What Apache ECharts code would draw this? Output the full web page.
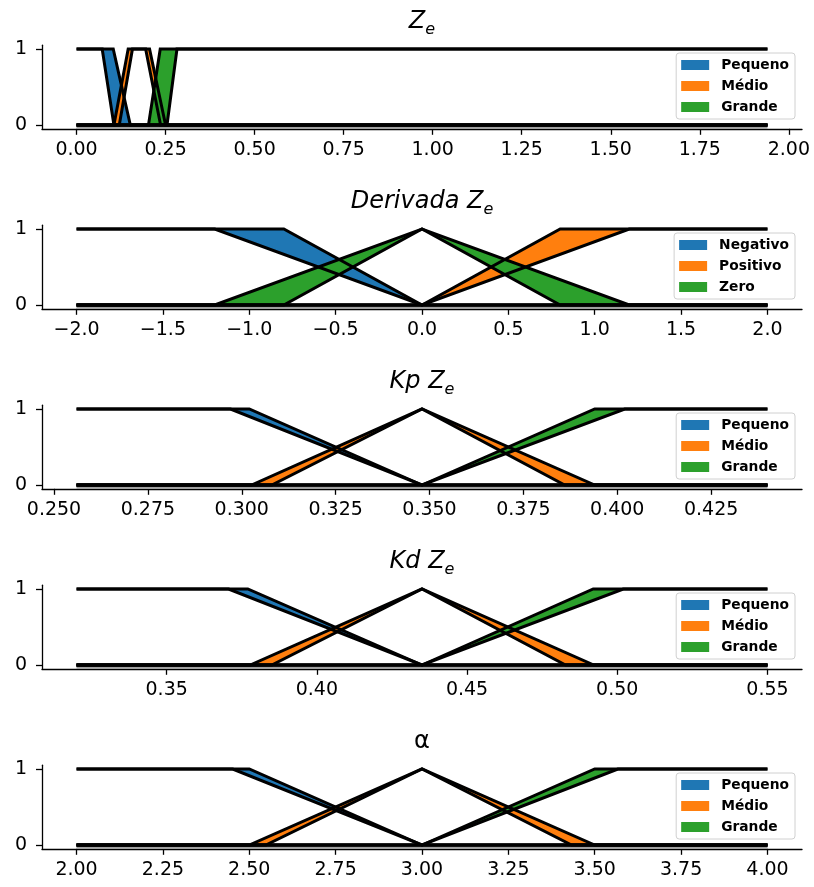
<!DOCTYPE html>
<html>
<head>
<meta charset="utf-8">
<script src="https://cdn.jsdelivr.net/npm/echarts@6/dist/echarts.min.js"></script>
<style>
  html, body { margin: 0; padding: 0; background: #fff; }
  #chart { width: 814px; height: 887px; }
</style>
</head>
<body>
<div id="chart"></div>
<script>
// ---------------- DATA ----------------
// Panel 1: Z_e
const zeDomain = [0, 1.94];
const zeTicks = [0, 0.25, 0.5, 0.75, 1.0, 1.25, 1.5, 1.75, 2.0];
const zePequenoUpper = [[0, 1], [0.103, 1], [0.151, 0], [1.94, 0]];
const zePequenoLower = [[0, 1], [0.072, 1], [0.105, 0], [1.94, 0]];
const zeMedioUpper = [[0, 0], [0.105, 0], [0.145, 1], [0.205, 1], [0.25, 0], [1.94, 0]];
const zeMedioLower = [[0, 0], [0.12, 0], [0.157, 1], [0.194, 1], [0.236, 0], [1.94, 0]];
const zeGrandeUpper = [[0, 0], [0.202, 0], [0.235, 1], [1.94, 1]];
const zeGrandeLower = [[0, 0], [0.254, 0], [0.282, 1], [1.94, 1]];

// Panel 2: Derivada Z_e
const dzDomain = [-2, 2];
const dzTicks = [-2, -1.5, -1, -0.5, 0, 0.5, 1, 1.5, 2];
const dzNegativoUpper = [[-2, 1], [-0.8, 1], [0, 0], [2, 0]];
const dzNegativoLower = [[-2, 1], [-1.2, 1], [0, 0], [2, 0]];
const dzPositivoUpper = [[-2, 0], [0, 0], [0.8, 1], [2, 1]];
const dzPositivoLower = [[-2, 0], [0, 0], [1.2, 1], [2, 1]];
const dzZeroUpper = [[-2, 0], [-1.2, 0], [0, 1], [1.2, 0], [2, 0]];
const dzZeroLower = [[-2, 0], [-0.8, 0], [0, 1], [0.8, 0], [2, 0]];

// Panel 3: Kp Z_e
const kpDomain = [0.256, 0.44];
const kpTicks = [0.25, 0.275, 0.3, 0.325, 0.35, 0.375, 0.4, 0.425];
const kpPequenoUpper = [[0.256, 1], [0.302, 1], [0.348, 0], [0.44, 0]];
const kpPequenoLower = [[0.256, 1], [0.297, 1], [0.348, 0], [0.44, 0]];
const kpMedioUpper = [[0.256, 0], [0.3026, 0], [0.348, 1], [0.394, 0], [0.44, 0]];
const kpMedioLower = [[0.256, 0], [0.308, 0], [0.348, 1], [0.386, 0], [0.44, 0]];
const kpGrandeUpper = [[0.256, 0], [0.348, 0], [0.394, 1], [0.44, 1]];
const kpGrandeLower = [[0.256, 0], [0.348, 0], [0.402, 1], [0.44, 1]];

// Panel 4: Kd Z_e
const kdDomain = [0.32, 0.55];
const kdTicks = [0.35, 0.4, 0.45, 0.5, 0.55];
const kdPequenoUpper = [[0.32, 1], [0.377, 1], [0.435, 0], [0.55, 0]];
const kdPequenoLower = [[0.32, 1], [0.3706, 1], [0.435, 0], [0.55, 0]];
const kdMedioUpper = [[0.32, 0], [0.3778, 0], [0.435, 1], [0.4922, 0], [0.55, 0]];
const kdMedioLower = [[0.32, 0], [0.385, 0], [0.435, 1], [0.4828, 0], [0.55, 0]];
const kdGrandeUpper = [[0.32, 0], [0.435, 0], [0.492, 1], [0.55, 1]];
const kdGrandeLower = [[0.32, 0], [0.435, 0], [0.502, 1], [0.55, 1]];

// Panel 5: alpha
const alDomain = [2, 4];
const alTicks = [2, 2.25, 2.5, 2.75, 3, 3.25, 3.5, 3.75, 4];
const alPequenoUpper = [[2, 1], [2.5, 1], [3, 0], [4, 0]];
const alPequenoLower = [[2, 1], [2.452, 1], [3, 0], [4, 0]];
const alMedioUpper = [[2, 0], [2.5, 0], [3, 1], [3.5, 0], [4, 0]];
const alMedioLower = [[2, 0], [2.548, 0], [3, 1], [3.433, 0], [4, 0]];
const alGrandeUpper = [[2, 0], [3, 0], [3.5, 1], [4, 1]];
const alGrandeLower = [[2, 0], [3, 0], [3.567, 1], [4, 1]];

const yTicks = [0, 1];
const namesPMG = ['Pequeno', 'Médio', 'Grande'];
const namesDer = ['Negativo', 'Positivo', 'Zero'];
const titleTexts = ['{z|Z}{s|e}', '{n|Derivada }{z|Z}{s|e}', '{n|Kp }{z|Z}{s|e}', '{n|Kd }{z|Z}{s|e}', '{a|α}'];
const tickDecimals = [2, 1, 3, 2, 2];

// ---------------- BUILD ----------------
const COLORS = ['#1f77b4', '#ff7f0e', '#2ca02c'];
const FONT = 'DejaVu Sans';

const panels = [
  { domain: zeDomain, ticks: zeTicks, names: namesPMG,
    mfs: [[zePequenoUpper, zePequenoLower], [zeMedioUpper, zeMedioLower], [zeGrandeUpper, zeGrandeLower]] },
  { domain: dzDomain, ticks: dzTicks, names: namesDer,
    mfs: [[dzNegativoUpper, dzNegativoLower], [dzPositivoUpper, dzPositivoLower], [dzZeroUpper, dzZeroLower]] },
  { domain: kpDomain, ticks: kpTicks, names: namesPMG,
    mfs: [[kpPequenoUpper, kpPequenoLower], [kpMedioUpper, kpMedioLower], [kpGrandeUpper, kpGrandeLower]] },
  { domain: kdDomain, ticks: kdTicks, names: namesPMG,
    mfs: [[kdPequenoUpper, kdPequenoLower], [kdMedioUpper, kdMedioLower], [kdGrandeUpper, kdGrandeLower]] },
  { domain: alDomain, ticks: alTicks, names: namesPMG,
    mfs: [[alPequenoUpper, alPequenoLower], [alMedioUpper, alMedioLower], [alGrandeUpper, alGrandeLower]] }
];

const STEP = 180;
const grids = [], xAxes = [], yAxes = [], series = [], legends = [], titles = [];

const baseTok = { fontFamily: FONT, fontWeight: 'normal', color: '#000', verticalAlign: 'middle' };
const titleRich = {
  z: Object.assign({}, baseTok, { fontStyle: 'italic', fontSize: 24, lineHeight: 28 }),
  n: Object.assign({}, baseTok, { fontStyle: 'italic', fontSize: 24, lineHeight: 28 }),
  s: Object.assign({}, baseTok, { fontStyle: 'italic', fontSize: 16, lineHeight: 14, padding: [16, 0, 0, 0] }),
  a: Object.assign({}, baseTok, { fontSize: 24, lineHeight: 28 })
};

panels.forEach((p, i) => {
  const span = p.domain[1] - p.domain[0];
  const xmin = p.domain[0] - 0.05 * span;
  const xmax = p.domain[1] + 0.05 * span;
  const dec = tickDecimals[i];
  grids.push({ left: 42, right: 12, top: 45.2 + STEP * i, height: 83.6 });
  xAxes.push({
    type: 'value', gridIndex: i, min: xmin, max: xmax,
    splitLine: { show: false },
    axisLine: { onZero: false, lineStyle: { color: '#000', width: 1.3 } },
    axisTick: { customValues: p.ticks, length: 6, lineStyle: { color: '#000', width: 1.3 } },
    axisLabel: {
      customValues: p.ticks, margin: 12, color: '#000', fontFamily: FONT, fontSize: 19,
      formatter: v => v.toFixed(dec).replace('-', '\u2212')
    }
  });
  yAxes.push({
    type: 'value', gridIndex: i, min: -0.05, max: 1.05,
    splitLine: { show: false },
    axisLine: { show: true, onZero: false, lineStyle: { color: '#000', width: 1.3 } },
    axisTick: { show: true, customValues: yTicks, length: 6, lineStyle: { color: '#000', width: 1.3 } },
    axisLabel: { customValues: yTicks, margin: 15, color: '#000', fontFamily: FONT, fontSize: 19, formatter: v => String(Math.round(v)) }
  });
  titles.push({
    text: titleTexts[i], left: 422, top: 8 + STEP * i, textAlign: 'center', padding: 0,
    textStyle: { fontWeight: 'normal', fontFamily: FONT, rich: titleRich }
  });
  legends.push({
    orient: 'vertical', right: 19, top: 53 + STEP * i, selectedMode: false,
    data: p.names.map(n => ({ name: n, icon: 'rect' })),
    itemWidth: 28, itemHeight: 10, itemGap: 7,
    textStyle: { fontFamily: FONT, fontWeight: 'bold', fontSize: 13.8, color: '#000', lineHeight: 14, padding: [0, 0, 0, 7] },
    borderColor: '#d0d0d0', borderWidth: 1, borderRadius: 3, padding: [5, 6, 5, 5],
    backgroundColor: 'rgba(255,255,255,0.85)'
  });
  // fills
  p.mfs.forEach((mf, k) => {
    const upper = mf[0], lower = mf[1];
    series.push({
      type: 'custom', name: p.names[k], xAxisIndex: i, yAxisIndex: i,
      coordinateSystem: 'cartesian2d', silent: true, z: 1,
      itemStyle: { color: COLORS[k] },
      data: upper, encode: { x: 0, y: 1 },
      renderItem: function (params, api) {
        if (params.dataIndex !== 0) return null;
        const pts = upper.map(pt => api.coord(pt))
          .concat(lower.slice().reverse().map(pt => api.coord(pt)));
        return { type: 'polygon', shape: { points: pts }, style: { fill: COLORS[k], stroke: null } };
      }
    });
  });
  // gray shadow under the zero baseline
  series.push({
    type: 'line', xAxisIndex: i, yAxisIndex: i, silent: true, z: 2,
    showSymbol: false, data: [[p.domain[0], 0], [p.domain[1], 0]],
    lineStyle: { color: '#000', width: 3, shadowColor: '#a0a0a0', shadowOffsetY: 2.5, shadowBlur: 0 }
  });
  // black outlines
  p.mfs.forEach((mf) => {
    mf.forEach(curve => {
      series.push({
        type: 'line', xAxisIndex: i, yAxisIndex: i, silent: true, z: 3,
        showSymbol: false, data: curve,
        lineStyle: { color: '#000', width: 3, join: 'miter' }
      });
    });
  });
});

const chart = echarts.init(document.getElementById('chart'), null, { renderer: 'canvas' });
chart.setOption({
  animation: false,
  backgroundColor: '#fff',
  title: titles,
  legend: legends,
  grid: grids,
  xAxis: xAxes,
  yAxis: yAxes,
  series: series
});
</script>
</body>
</html>
